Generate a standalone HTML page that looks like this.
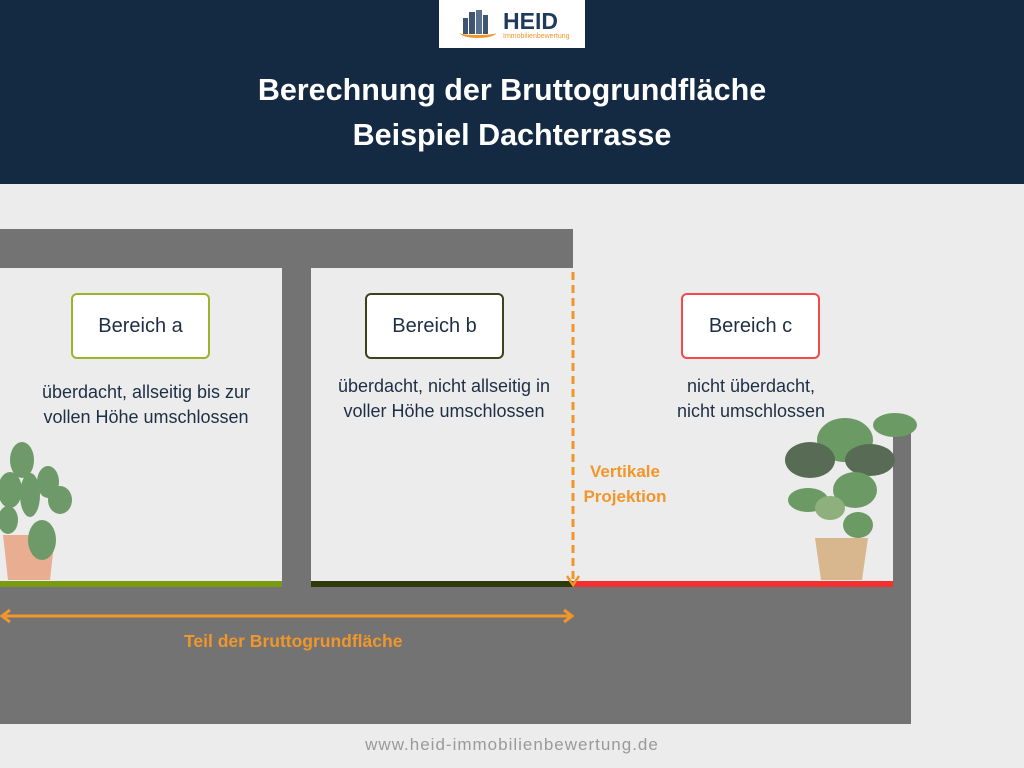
<!DOCTYPE html>
<html><head><meta charset="utf-8"><style>
*{margin:0;padding:0;box-sizing:border-box}
body{width:1024px;height:768px;background:#ececec;position:relative;overflow:hidden;font-family:"Liberation Sans",sans-serif}
.a{position:absolute}
.hdr{left:0;top:0;width:1024px;height:184px;background:#142a42}
.title{left:0;width:1024px;text-align:center;color:#fff;font-weight:bold;font-size:30.5px;line-height:40px}
.g{background:#737373}
.box{background:#fff;border-radius:6px;border:2px solid;text-align:center;font-size:20px;color:#1e2f45;line-height:62px;height:66px;width:139px}
.d{text-align:center;font-size:18px;color:#1e2f45;line-height:25px}
.o{color:#f0962a;font-weight:bold;font-size:17px}
</style></head><body>
<div class="a hdr"></div>
<div class="a" style="left:439px;top:0;width:146px;height:48px;background:#fff"></div>
<div class="a" style="left:460px;top:10px;width:30px;height:28px">
<div class="a" style="left:3px;top:8px;width:5px;height:16px;background:#3d5572"></div>
<div class="a" style="left:9px;top:2px;width:6px;height:22px;background:#3d5572"></div>
<div class="a" style="left:16px;top:0;width:6px;height:24px;background:#5a7290"></div>
<div class="a" style="left:23px;top:5px;width:5px;height:19px;background:#3d5572"></div>
<div class="a" style="left:0;top:18px;width:36px;height:10px;border-bottom:3px solid #f0962a;border-radius:0 0 50% 50%"></div>
</div>
<div class="a" style="left:503px;top:9px;font-size:23px;font-weight:bold;color:#1e3a5c;line-height:24px">HEID</div>
<div class="a" style="left:503px;top:33px;font-size:7px;color:#f0962a">Immobilienbewertung</div>
<div class="a title" style="top:70px">Berechnung der Bruttogrundfläche</div>
<div class="a title" style="top:115px">Beispiel Dachterrasse</div>

<div class="a g" style="left:0;top:229px;width:573px;height:39px"></div>
<div class="a g" style="left:282px;top:268px;width:29px;height:318px"></div>
<div class="a g" style="left:0;top:586px;width:911px;height:138px"></div>
<div class="a g" style="left:893px;top:430px;width:18px;height:156px"></div>
<div class="a" style="left:0;top:581px;width:282px;height:6px;background:#7a9a10"></div>
<div class="a" style="left:311px;top:581px;width:262px;height:6px;background:#2f3a0a"></div>
<div class="a" style="left:573px;top:581px;width:320px;height:6px;background:#f23030"></div>

<div class="a box" style="left:71px;top:293px;border-color:#9ab52a">Bereich a</div>
<div class="a box" style="left:365px;top:293px;border-color:#3b431c">Bereich b</div>
<div class="a box" style="left:681px;top:293px;border-color:#f24a4a">Bereich c</div>
<div class="a d" style="left:0px;top:380px;width:292px">überdacht, allseitig bis zur<br>vollen Höhe umschlossen</div>
<div class="a d" style="left:298px;top:374px;width:292px">überdacht, nicht allseitig in<br>voller Höhe umschlossen</div>
<div class="a d" style="left:605px;top:374px;width:292px">nicht überdacht,<br>nicht umschlossen</div>

<svg class="a" style="left:0;top:0" width="1024" height="768">
<line x1="573" y1="272" x2="573" y2="582" stroke="#f0962a" stroke-width="3" stroke-dasharray="8,5"/>
<path d="M567 576 L573 585 L579 576" stroke="#f0962a" stroke-width="2.5" fill="none"/>
<line x1="2" y1="616" x2="572" y2="616" stroke="#f0962a" stroke-width="3"/>
<path d="M10 610 L2 616 L10 622 M564 610 L572 616 L564 622" stroke="#f0962a" stroke-width="3" fill="none"/>
<path d="M3 535 L55 535 L50 580 L8 580 Z" fill="#e9ae92"/>
<g fill="#6d9a68"><ellipse cx="22" cy="460" rx="12" ry="18"/><ellipse cx="48" cy="482" rx="11" ry="16"/><ellipse cx="60" cy="500" rx="12" ry="14"/><ellipse cx="10" cy="490" rx="12" ry="18"/><ellipse cx="42" cy="540" rx="14" ry="20"/><ellipse cx="8" cy="520" rx="10" ry="14"/><ellipse cx="30" cy="495" rx="10" ry="22"/></g>
<path d="M815 538 L868 538 L862 580 L821 580 Z" fill="#d8b78e"/>
<g fill="#6c9a64"><ellipse cx="845" cy="440" rx="28" ry="22"/><ellipse cx="810" cy="460" rx="25" ry="18" fill="#586b55"/><ellipse cx="870" cy="460" rx="25" ry="16" fill="#586b55"/><ellipse cx="895" cy="425" rx="22" ry="12"/><ellipse cx="855" cy="490" rx="22" ry="18"/><ellipse cx="808" cy="500" rx="20" ry="12"/><ellipse cx="830" cy="508" rx="15" ry="12" fill="#8db07c"/><ellipse cx="858" cy="525" rx="15" ry="13"/></g>
</svg>
<div class="a o" style="left:580px;top:459px;width:90px;text-align:center;line-height:25px">Vertikale<br>Projektion</div>
<div class="a o" style="left:184px;top:631px;font-size:17.5px">Teil der Bruttogrundfläche</div>
<div class="a" style="left:0;top:735px;width:1024px;text-align:center;color:#9a9a9a;font-size:17px;letter-spacing:1px">www.heid-immobilienbewertung.de</div>
</body></html>
